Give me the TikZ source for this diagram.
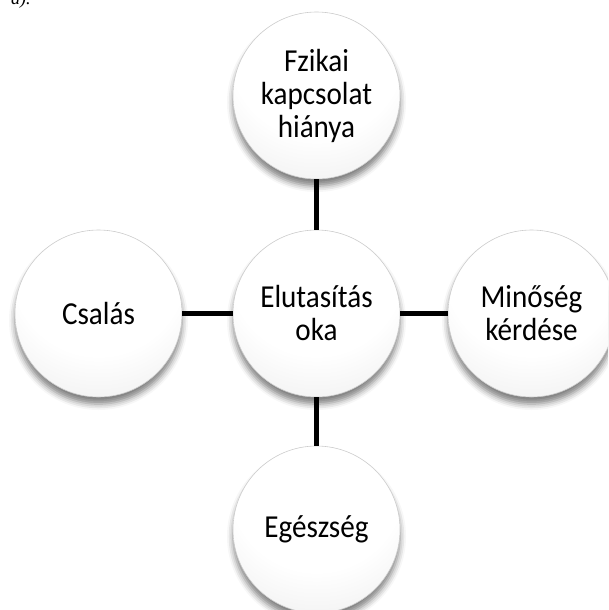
\documentclass[tikz,border=0pt]{standalone}
\usepackage{fontspec}
\setmainfont{Carlito}[FakeStretch=0.91]
\newfontfamily\serifit{Liberation Serif}
\usetikzlibrary{shadows.blur}
\pgfdeclareradialshading{bevelball}{\pgfpoint{0bp}{20bp}}{color(0bp)=(white); color(26bp)=(white); color(38bp)=(black!5); color(48bp)=(black!12); color(56bp)=(black!20); color(62bp)=(black!28); color(66bp)=(black!38); color(69bp)=(black!50); color(71bp)=(black!58); color(80bp)=(black!58)}
\tikzset{
  bubble/.style={circle, minimum size=167pt, inner sep=0pt, shading=bevelball,
    draw=black!20, line width=0.6pt, align=center, text=black,
    font=\fontsize{32}{33}\selectfont,
    blur shadow={shadow xshift=0pt, shadow yshift=-7pt, shadow blur radius=6pt, shadow opacity=50}},
  link/.style={line width=5.5pt, black},
  fragment/.style={inner sep=0pt, anchor=base west, font=\serifit\itshape\fontsize{18}{20}\selectfont}
}
\begin{document}
\begin{tikzpicture}[x=1pt, y=-1pt]
  \useasboundingbox (0,0) rectangle (608,610);
  \clip (0,0) rectangle (608,610);
  \node[fragment] (frag) at (11,5) {a).};
  \node[bubble] (C) at (316.5,313.5) {Elutasítás\\oka};
  \node[bubble] (T) at (316.5,95.5) {Fzikai\\kapcsolat\\hiánya};
  \node[bubble] (B) at (316.5,529.5) {Egészség};
  \node[bubble] (L) at (98.5,313.5) {Csalás};
  \node[bubble] (R) at (531.5,313.5) {Minőség\\kérdése};
  \draw[link] (T) -- (C);
  \draw[link] (C) -- (B);
  \draw[link] (L) -- (C);
  \draw[link] (C) -- (R);
\end{tikzpicture}
\end{document}
